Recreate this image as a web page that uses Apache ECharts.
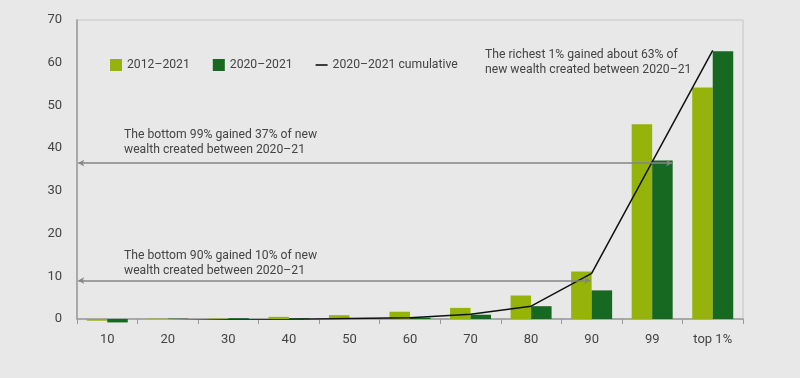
<!DOCTYPE html>
<html>
<head>
<meta charset="utf-8">
<script src="https://cdn.jsdelivr.net/npm/echarts@6/dist/echarts.min.js"></script>
<style>
html,body{margin:0;padding:0;background:#e8e8e9;}
#chart{width:800px;height:378px;}
</style>
</head>
<body>
<div id="chart"></div>
<script>
// ---- data ----
const categories = ['10','20','30','40','50','60','70','80','90','99','top 1%'];
const share2012_2021 = [-0.4, 0.1, 0.1, 0.5, 0.9, 1.7, 2.6, 5.5, 11.1, 45.6, 54.2];
const share2020_2021 = [-0.8, 0.1, 0.2, 0.2, 0.2, 0.3, 1.0, 3.0, 6.7, 37.1, 62.7];
const cumulative2020_2021 = [-0.6, -0.4, -0.2, -0.1, 0.1, 0.3, 1.1, 3.0, 10.7, 36.8, 62.9];
const yTicks = [0, 10, 20, 30, 40, 50, 60, 70];
// annotation arrows: [level, right end in category units]
const arrowBottom99 = [36.5, 9.83];
const arrowBottom90 = [9.0, 8.48];
const noteBottom99 = 'The bottom 99% gained 37% of new\nwealth created between 2020–21';
const noteBottom90 = 'The bottom 90% gained 10% of new\nwealth created between 2020–21';
const noteTop1 = 'The richest 1% gained about 63% of\nnew wealth created between 2020–21';

const LIGHT = '#95b30b';
const DARK = '#176820';
const FONT = 'Roboto';
const TXT = '#444';

const chart = echarts.init(document.getElementById('chart'), null, {renderer: 'canvas'});

function arrowLine(a) {
  return [{coord: [0.02, a[0]]}, {coord: [a[1], a[0]]}];
}

chart.setOption({
  backgroundColor: '#e8e8e9',
  animation: false,
  textStyle: {fontFamily: FONT},
  grid: {left: 77, right: 57, top: 20, bottom: 59, show: true, borderColor: '#c4c4c4', borderWidth: 1, backgroundColor: 'transparent'},
  legend: {
    left: 110, top: 59, padding: 0, itemWidth: 12, itemHeight: 12, itemGap: 23,
    textStyle: {color: TXT, fontSize: 12.2, fontFamily: FONT},
    data: [
      {name: '2012–2021', icon: 'rect'},
      {name: '2020–2021', icon: 'rect'},
      {name: '2020–2021 cumulative', icon: 'path://M0 0 H12 V1.6 H0 Z', itemStyle: {color: '#111'}}
    ],
    selectedMode: false
  },
  xAxis: [{
    type: 'category', data: categories,
    axisLine: {lineStyle: {color: '#9a9a9a', width: 1.5}},
    axisTick: {show: true, length: 5, lineStyle: {color: '#9a9a9a'}},
    axisLabel: {color: TXT, fontSize: 13, margin: 14, fontFamily: FONT},
    splitLine: {show: false}
  }, {
    type: 'value', min: 0, max: 11, show: false
  }],
  yAxis: {
    type: 'value', min: yTicks[0], max: yTicks[yTicks.length - 1], interval: 10,
    axisLine: {show: true, lineStyle: {color: '#9a9a9a', width: 1.5}},
    axisTick: {show: false},
    axisLabel: {color: TXT, fontSize: 13, margin: 15, fontFamily: FONT},
    splitLine: {show: false}
  },
  series: [
    {
      name: '2012–2021', type: 'bar', data: share2012_2021, barWidth: 20.5, barGap: '0%',
      itemStyle: {color: LIGHT}, clip: false, z: 2
    },
    {
      name: '2020–2021', type: 'bar', data: share2020_2021, barWidth: 20.5, barGap: '0%',
      itemStyle: {color: DARK}, clip: false, z: 2
    },
    {
      name: '2020–2021 cumulative', type: 'line', data: cumulative2020_2021,
      symbol: 'none', showSymbol: false, lineStyle: {color: '#111', width: 1.5},
      itemStyle: {color: '#111'}, z: 4
    },
    {
      name: 'arrows', type: 'line', xAxisIndex: 1, data: [], z: 3,
      markLine: {
        silent: true, symbol: ['arrow', 'arrow'], symbolSize: [5, 6],
        lineStyle: {color: '#858585', width: 1.5, type: 'solid'},
        label: {show: false},
        animation: false,
        data: [arrowLine(arrowBottom99), arrowLine(arrowBottom90)]
      }
    }
  ],
  graphic: [
    {type: 'text', left: 124, top: 127, style: {text: noteBottom99, fill: TXT, font: '12.2px ' + FONT, lineHeight: 15.5}},
    {type: 'text', left: 124, top: 248, style: {text: noteBottom90, fill: TXT, font: '12.2px ' + FONT, lineHeight: 15.5}},
    {type: 'text', left: 485, top: 47, style: {text: noteTop1, fill: TXT, font: '12.2px ' + FONT, lineHeight: 15.5}}
  ]
});
</script>
</body>
</html>
